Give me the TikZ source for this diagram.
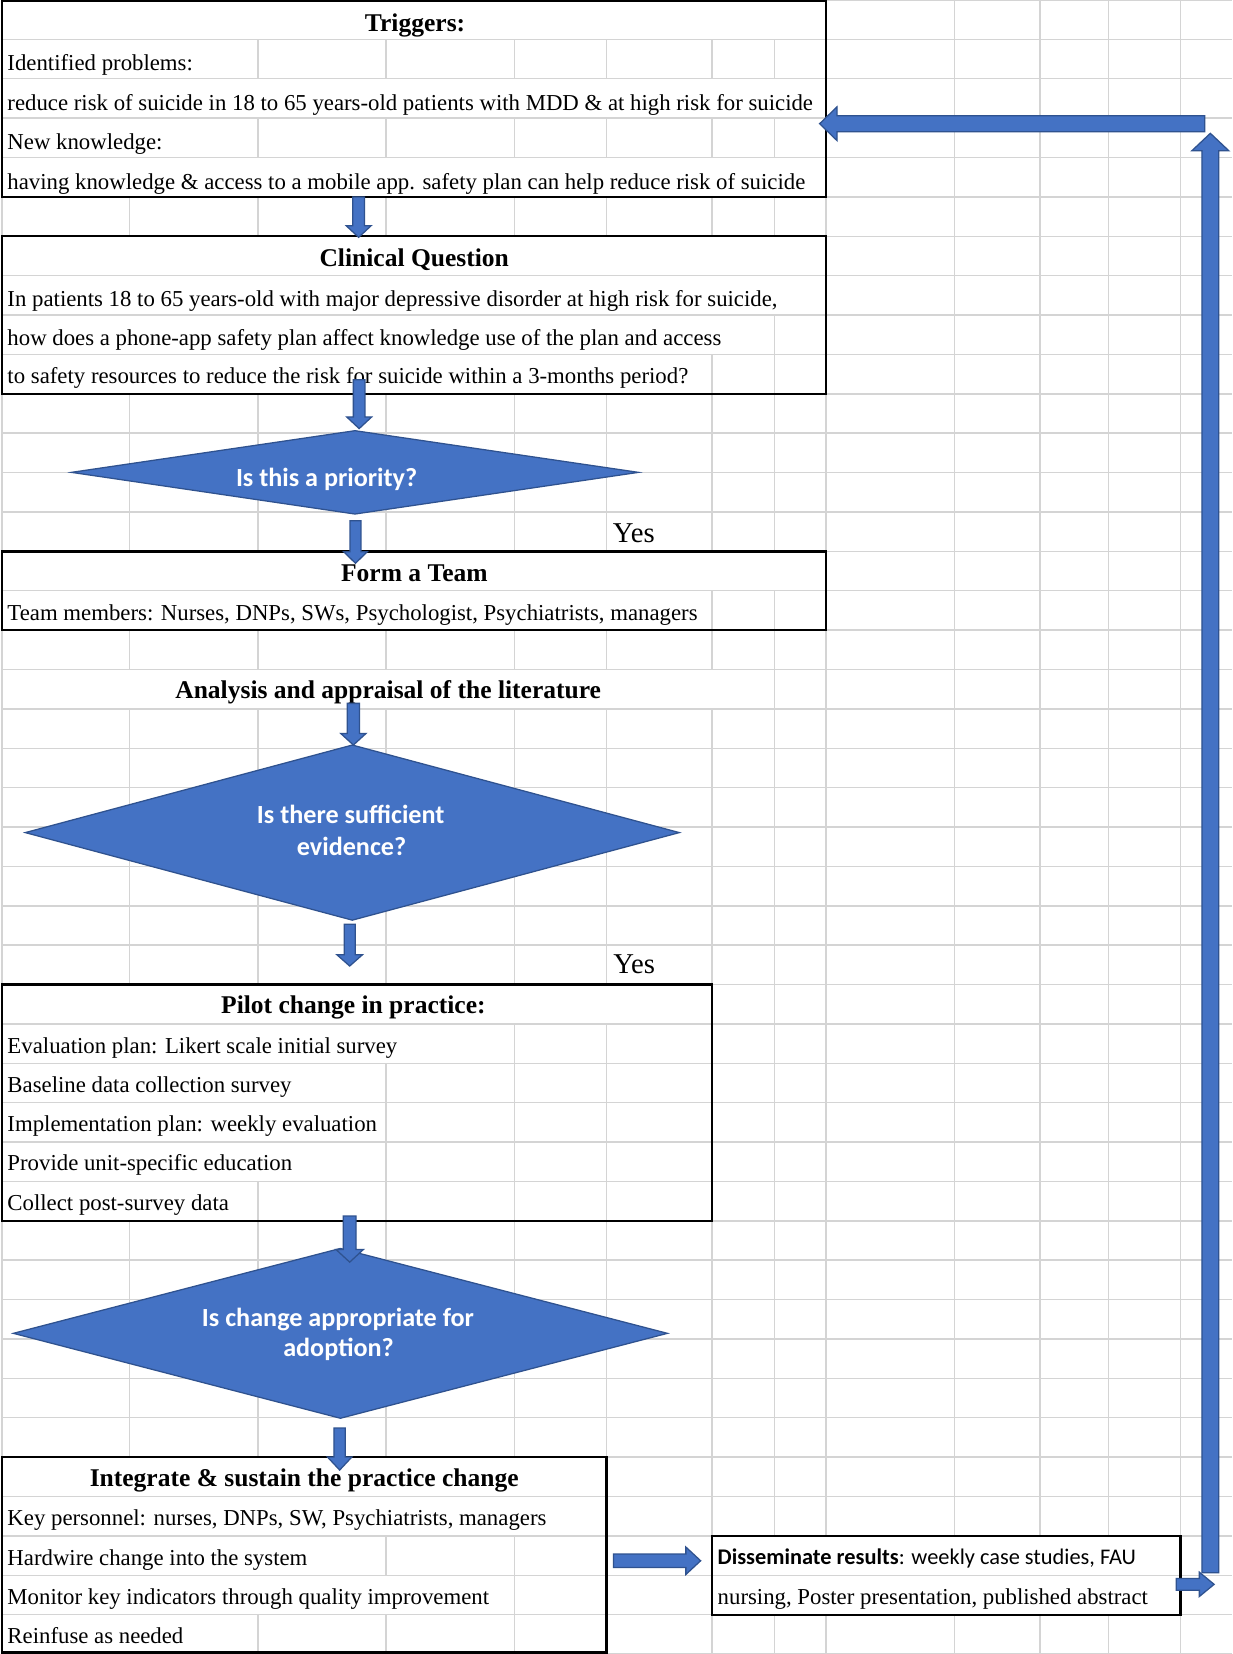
\documentclass[tikz,border=0pt]{standalone}
\usepackage{fontspec}
\setmainfont{Liberation Serif}
\newfontfamily\calibri{Carlito}
\usetikzlibrary{calc,fit,shapes.geometric}
\definecolor{offblue}{HTML}{4472C4}
\definecolor{offdark}{HTML}{2F528F}
\definecolor{gridc}{HTML}{D4D4D4}
\tikzset{
 gridl/.style={draw=gridc, line width=0.7pt},
 box/.style={draw=black, line width=1.1pt, inner sep=0pt, outer sep=0pt},
 body/.style={font=\fontsize{10.8}{13}\selectfont, inner sep=0pt, anchor=base west},
 ttl/.style={font=\fontsize{12.1}{14.5}\selectfont\bfseries, inner sep=0pt, anchor=base},
 yes/.style={font=\fontsize{13.6}{16}\selectfont, inner sep=0pt, anchor=base west},
 dia/.style={diamond, fill=offblue, draw=offdark, line width=0.6pt, inner sep=0pt, outer sep=0pt},
 dtxt/.style={font=\calibri\bfseries\fontsize{12.4}{14.8}\selectfont, text=white, inner sep=0pt, anchor=base},
 barrowst/.style={fill=offblue, draw=offdark, line width=0.6pt, line join=miter},
}
% block arrow: from, to, half shaft, half head, head length
\newcommand\barrow[5]{%
 \filldraw[barrowst] let \p1=(#1), \p2=(#2), \n1={veclen(\x2-\x1,\y2-\y1)}, \n2={(\x2-\x1)/\n1}, \n3={(\y2-\y1)/\n1} in
 ({\x1-(\n3)*#3},{\y1+(\n2)*#3}) -- ({\x2-(\n2)*#5-(\n3)*#3},{\y2-(\n3)*#5+(\n2)*#3})
 -- ({\x2-(\n2)*#5-(\n3)*#4},{\y2-(\n3)*#5+(\n2)*#4}) -- (\x2,\y2)
 -- ({\x2-(\n2)*#5+(\n3)*#4},{\y2-(\n3)*#5-(\n2)*#4}) -- ({\x2-(\n2)*#5+(\n3)*#3},{\y2-(\n3)*#5-(\n2)*#3})
 -- ({\x1+(\n3)*#3},{\y1-(\n2)*#3}) -- cycle;}
% vertical grid segments for rows #1..#2 at columns #3
\newcommand\vg[3]{\foreach \c in {#3}{\draw[gridl] (\c,{#1*37.3333}) -- (\c,{(#2+1)*37.3333});}}

\begin{document}
\begin{tikzpicture}[x=0.5pt,y=-0.5pt]
\fill[white] (0,0) rectangle (1168,1568);
\useasboundingbox (0,0) rectangle (1168,1568);

% ---------- grid ----------
\foreach \k in {1,...,41}{\draw[gridl] (2,{\k*37.3333}) -- (1168,{\k*37.3333});}
\draw[gridl] (2,0.7) -- (1168,0.7);
\draw[gridl] (2,1567.3) -- (1168,1567.3);
\draw[gridl] (2,0) -- (2,1568);
\vg{0}{0}{783,905,986,1051,1119}
\vg{1}{1}{244.5,366,487.5,575,675,734,783,905,986,1051,1119}
\vg{2}{2}{783,905,986,1051,1119}
\vg{3}{3}{244.5,366,487.5,575,675,734,783,905,986,1051,1119}
\vg{4}{4}{783,905,986,1051,1119}
\vg{5}{5}{123,244.5,366,487.5,575,675,734,783,905,986,1051,1119}
\vg{6}{7}{783,905,986,1051,1119}
\vg{8}{8}{734,783,905,986,1051,1119}
\vg{9}{9}{675,734,783,905,986,1051,1119}
\vg{10}{13}{123,244.5,366,487.5,575,675,734,783,905,986,1051,1119}
\vg{14}{14}{783,905,986,1051,1119}
\vg{15}{15}{675,734,783,905,986,1051,1119}
\vg{16}{16}{123,244.5,366,487.5,575,675,734,783,905,986,1051,1119}
\vg{17}{17}{734,783,905,986,1051,1119}
\vg{18}{24}{123,244.5,366,487.5,575,675,734,783,905,986,1051,1119}
\vg{25}{25}{675,734,783,905,986,1051,1119}
\vg{26}{26}{487.5,575,675,734,783,905,986,1051,1119}
\vg{27}{29}{366,487.5,575,675,734,783,905,986,1051,1119}
\vg{30}{30}{244.5,366,487.5,575,675,734,783,905,986,1051,1119}
\vg{31}{36}{123,244.5,366,487.5,575,675,734,783,905,986,1051,1119}
\vg{37}{38}{575,675,734,783,905,986,1051,1119}
\vg{39}{39}{366,487.5,575,675,1119}
\vg{40}{40}{487.5,575,675,1119}
\vg{41}{41}{244.5,366,487.5,575,675,734,783,905,986,1051,1119}

% ---------- boxes ----------
\node[box, fit={(2,1) (783,186.7)}] (trig) {};
\node[box, fit={(2,224) (783,373.3)}] (cq) {};
\node[box, fit={(2,522.7) (783,597.3)}] (team) {};
\node[box, fit={(2,933.3) (675,1157.3)}] (pilot) {};
\node[box, fit={(2,1381.3) (575,1566.5)}] (integ) {};
\node[box, fit={(675,1456) (1119,1530.7)}] (diss) {};

% ---------- diamonds ----------
\node[dia, minimum width=268.75pt, minimum height=39.5pt] (d1) at (336.5,447.8) {};
\node[dia, minimum width=310pt, minimum height=83pt] (d2) at (334,789.3) {};
\node[dia, minimum width=310pt, minimum height=80.5pt] (d3) at (322.7,1264) {};
\node[dtxt] (d1a) at (309.6,460.8) {Is this a priority?};
\node[dtxt] (d2a) at (332.5,780.6) {Is there sufficient};
\node[dtxt] (d2b) at (333.3,810.6) {evidence?};
\node[dtxt] (d3a) at (320.4,1257.1) {Is change appropriate for};
\node[dtxt] (d3b) at (320.9,1286.2) {adoption?};

% ---------- texts ----------
\node[ttl] (trigT) at (393.5,30) {Triggers:};
\node[body] (tr1) at (6.7,67.3) {Identified problems:};
\node[body] (tr2) at (6.7,104.3) {reduce risk of suicide in 18 to 65 years-old patients with MDD \& at high risk for suicide};
\node[body] (tr3) at (6.7,141.6) {New knowledge:};
\node[body] (tr4) at (6.7,179.3) {having knowledge \& access to a mobile app. safety plan can help reduce risk of suicide};
\node[ttl] (cqT) at (392.7,252.8) {Clinical Question};
\node[body] (cq1) at (6.7,290.1) {In patients 18 to 65 years-old with major depressive disorder at high risk for suicide,};
\node[body] (cq2) at (6.7,327.1) {how does a phone-app safety plan affect knowledge use of the plan and access};
\node[body] (cq3) at (6.7,364) {to safety resources to reduce the risk for suicide within a 3-months period?};
\node[yes] (yes1) at (580.7,514.5) {Yes};
\node[ttl] (teamT) at (392.8,550.8) {Form a Team};
\node[body] (team1) at (6.7,587.8) {Team members: Nurses, DNPs, SWs, Psychologist, Psychiatrists, managers};
\node[ttl] (ana) at (368,662) {Analysis and appraisal of the literature};
\node[yes] (yes2) at (581,922.8) {Yes};
\node[ttl] (pilotT) at (335,960.7) {Pilot change in practice:};
\node[body] (p1) at (6.7,998.6) {Evaluation plan: Likert scale initial survey};
\node[body] (p2) at (6.7,1035.6) {Baseline data collection survey};
\node[body] (p3) at (6.7,1072.9) {Implementation plan: weekly evaluation};
\node[body] (p4) at (6.7,1109.9) {Provide unit-specific education};
\node[body] (p5) at (6.7,1147.2) {Collect post-survey data};
\node[ttl] (intT) at (288.4,1408.8) {Integrate \& sustain the practice change};
\node[body] (i1) at (6.7,1445.8) {Key personnel: nurses, DNPs, SW, Psychiatrists, managers};
\node[body] (i2) at (6.7,1483.7) {Hardwire change into the system};
\node[body] (i3) at (6.7,1520.7) {Monitor key indicators through quality improvement};
\node[body] (i4) at (6.7,1558) {Reinfuse as needed};
\node[body] (ds1) at (680,1482.8) {\calibri\fontsize{10.6}{13}\selectfont\textbf{Disseminate results}: weekly case studies, FAU};
\node[body] (ds2) at (680,1520.7) {nursing, Poster presentation, published abstract};

% ---------- arrows ----------
\coordinate (upt) at (1147.4,126.4);
\coordinate (lt) at (1142,117.3);
\barrow{$(trig.south)+(-52.5,0)$}{$(cq.north)+(-52.5,1)$}{2.75pt}{5.9pt}{5.5pt}
\barrow{$(cq.south)+(-52,-13.3)$}{$(d1.north)+(4,-2)$}{2.75pt}{5.9pt}{5.5pt}
\barrow{$(d1.south)+(0.5,6.3)$}{$(team.north)+(-55.5,11.3)$}{2.6pt}{5.6pt}{5.5pt}
\barrow{$(ana.base)+(-33,4.8)$}{$(d2.north)+(1,0)$}{2.85pt}{6pt}{5.5pt}
\barrow{$(d2.south)+(-2.5,3.8)$}{$(pilot.north)+(-7,-17.5)$}{2.6pt}{6pt}{5.3pt}
\barrow{$(pilot.south)+(-7,-4.5)$}{$(d3.north)+(8.8,13)$}{3pt}{6.5pt}{6pt}
\barrow{$(d3.south)+(-0.7,9.3)$}{$(integ.north)+(33.5,12.3)$}{2.7pt}{5.8pt}{6.2pt}
\barrow{$(integ.east)+(6.5,5.7)$}{$(diss.west)+(-10.8,-13.75)$}{3.2pt}{6.5pt}{7pt}
\barrow{$(diss.east)+(-4,8.6)$}{$(diss.east)+(32,8.6)$}{2.75pt}{5.75pt}{7pt}
\barrow{$(diss.east)+(28.4,-2.3)$}{upt}{4pt}{8.75pt}{8.25pt}
\barrow{lt}{$(trig.east)+(-6,23.45)$}{3.75pt}{8pt}{8.25pt}
\end{tikzpicture}
\end{document}
